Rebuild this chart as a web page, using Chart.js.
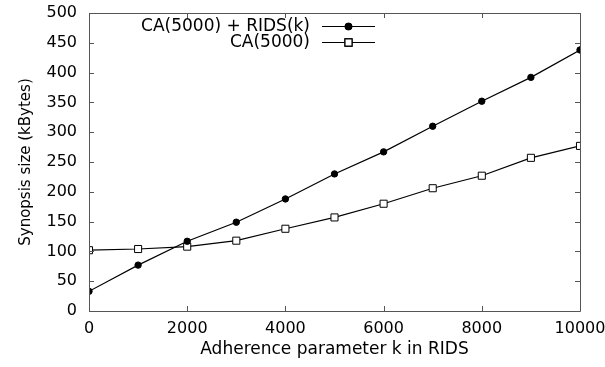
<!DOCTYPE html>
<html>
<head>
<meta charset="utf-8">
<script src="https://cdn.jsdelivr.net/npm/chart.js@4"></script>
<style>
  html, body { margin: 0; padding: 0; background: #fff; }
  #wrap { width: 605px; height: 367px; }
</style>
</head>
<body>
<div id="wrap"><canvas id="chart" width="605" height="367"></canvas></div>
<script>
const kValues = [0, 1000, 2000, 3000, 4000, 5000, 6000, 7000, 8000, 9000, 10000];
const caRids = [33, 77, 117, 149, 188, 230, 267, 310, 352, 392, 438];
const caOnly = [102, 104, 108, 118, 138, 157, 180, 206, 227, 257, 277];
const seriesLabels = ["CA(5000) + RIDS(k)", "CA(5000)"];
const xTitle = "Adherence parameter k in RIDS";
const yTitle = "Synopsis size (kBytes)";

const FONT = "'DejaVu Sans', sans-serif";

// frame with inward ticks on all four sides
const framePlugin = {
  id: "frame",
  afterDraw(chart) {
    const ctx = chart.ctx;
    const a = chart.chartArea;
    const xs = chart.scales.x;
    const ys = chart.scales.y;
    const len = 5;
    ctx.save();
    ctx.strokeStyle = "#555";
    ctx.lineWidth = 1;
    ctx.beginPath();
    ctx.rect(a.left + 0.5, a.top + 0.5, a.right - a.left, a.bottom - a.top);
    xs.ticks.forEach((t) => {
      const px = Math.round(xs.getPixelForValue(t.value)) + 0.5;
      ctx.moveTo(px, a.bottom);
      ctx.lineTo(px, a.bottom - len);
      ctx.moveTo(px, a.top);
      ctx.lineTo(px, a.top + len);
    });
    ys.ticks.forEach((t) => {
      const py = Math.round(ys.getPixelForValue(t.value)) + 0.5;
      ctx.moveTo(a.left, py);
      ctx.lineTo(a.left + len, py);
      ctx.moveTo(a.right, py);
      ctx.lineTo(a.right - len, py);
    });
    ctx.stroke();
    ctx.restore();
  },
};

// gnuplot style key: text right-aligned, sample line with marker on the right
const keyPlugin = {
  id: "key",
  afterDatasetsDraw(chart) {
    const ctx = chart.ctx;
    const textRight = 310;
    const lineStart = 322;
    const lineEnd = 375;
    const rows = [26, 42];
    ctx.save();
    ctx.font = "17px " + FONT;
    ctx.textAlign = "right";
    ctx.textBaseline = "middle";
    chart.data.datasets.forEach((ds, i) => {
      const y = rows[i];
      ctx.fillStyle = "#000";
      ctx.fillText(ds.label, textRight, y + 1);
      ctx.strokeStyle = ds.borderColor;
      ctx.lineWidth = ds.borderWidth;
      ctx.beginPath();
      ctx.moveTo(lineStart, y + 0.5);
      ctx.lineTo(lineEnd, y + 0.5);
      ctx.stroke();
      Chart.helpers.drawPoint(ctx, {
        pointStyle: ds.pointStyle,
        radius: ds.pointRadius,
        borderWidth: 1,
      }, (lineStart + lineEnd) / 2, y + 0.5);
      ctx.fillStyle = ds.pointBackgroundColor;
      ctx.strokeStyle = ds.pointBorderColor;
      ctx.fill();
      ctx.stroke();
    });
    ctx.restore();
  },
};

const ctx = document.getElementById("chart").getContext("2d");

new Chart(ctx, {
  type: "line",
  data: {
    datasets: [
      {
        label: seriesLabels[0],
        data: kValues.map((k, i) => ({ x: k, y: caRids[i] })),
        borderColor: "#000",
        borderWidth: 1.2,
        pointStyle: "circle",
        pointRadius: 3.2,
        pointBackgroundColor: "#000",
        pointBorderColor: "#000",
        pointBorderWidth: 1,
        tension: 0,
      },
      {
        label: seriesLabels[1],
        data: kValues.map((k, i) => ({ x: k, y: caOnly[i] })),
        borderColor: "#000",
        borderWidth: 1.2,
        pointStyle: "rect",
        pointRadius: 5,
        pointBackgroundColor: "#fff",
        pointBorderColor: "#000",
        pointBorderWidth: 1,
        tension: 0,
      },
    ],
  },
  options: {
    responsive: false,
    animation: false,
    layout: { padding: { left: 0, right: 25, top: 13, bottom: 0 } },
    plugins: {
      legend: { display: false },
      tooltip: { enabled: false },
    },
    scales: {
      x: {
        type: "linear",
        min: 0,
        max: 10000,
        afterFit: (scale) => {
          scale.height = 56;
          scale.paddingLeft = 0;
          scale.paddingRight = 0;
        },
        grid: { display: false, drawTicks: false },
        border: { display: false },
        ticks: {
          stepSize: 2000,
          padding: 8,
          color: "#000",
          maxRotation: 0,
          font: { family: FONT, size: 16 },
          callback: (v) => String(v),
        },
        title: {
          display: true,
          text: xTitle,
          color: "#000",
          font: { family: FONT, size: 17 },
          padding: { top: 0, bottom: 7 },
        },
      },
      y: {
        min: 0,
        max: 500,
        afterFit: (scale) => {
          scale.width = 89;
          scale.paddingTop = 0;
          scale.paddingBottom = 0;
        },
        grid: { display: false, drawTicks: false },
        border: { display: false },
        ticks: {
          stepSize: 50,
          padding: 12,
          color: "#000",
          font: { family: FONT, size: 16 },
        },
        title: {
          display: true,
          text: yTitle,
          color: "#000",
          font: { family: FONT, size: 15 },
          padding: { top: 17, bottom: 0 },
        },
      },
    },
  },
  plugins: [framePlugin, keyPlugin],
});
</script>
</body>
</html>
